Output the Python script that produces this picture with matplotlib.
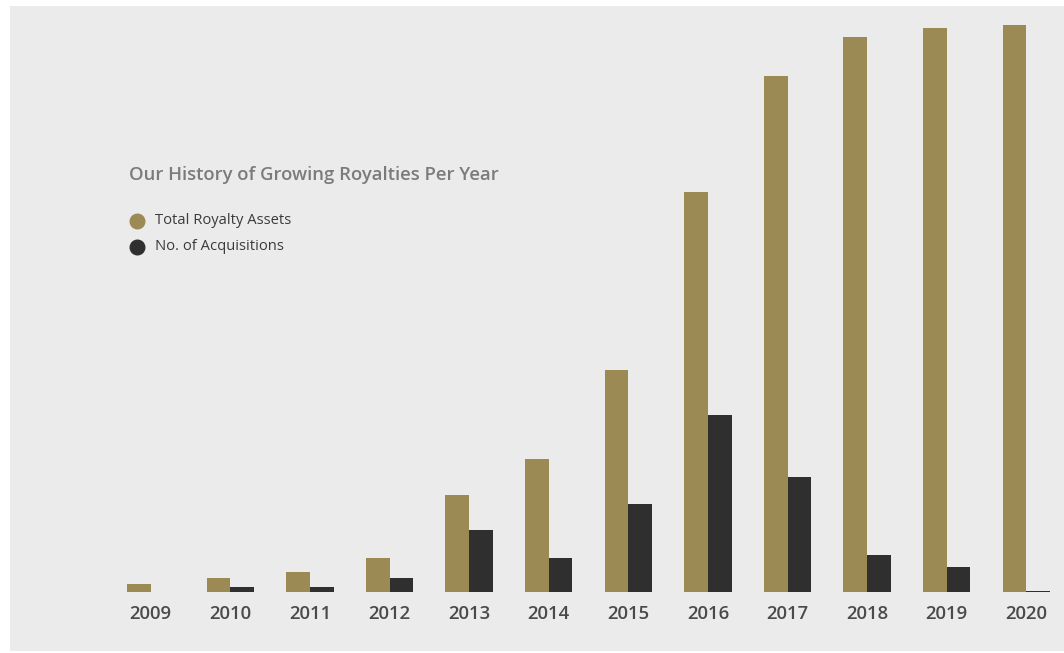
"""Bar chart: total royalty assets and acquisitions per year."""

import matplotlib
matplotlib.use("Agg")
import matplotlib.pyplot as plt
from matplotlib.patches import Rectangle
import numpy as np

years = ["2009", "2010", "2011", "2012", "2013", "2014",
         "2015", "2016", "2017", "2018", "2019", "2020"]
total_assets = [2.7, 4.7, 6.7, 11.3, 32.3, 44.3, 74.0, 133.3, 172.0, 185.0, 188.0, 189.0]
acquisitions = [0.0, 1.7, 1.7, 4.7, 20.7, 11.3, 29.3, 59.0, 38.3, 12.5, 8.4, 0.5]

GOLD = "#9c8a54"
DARK = "#2f2f2f"
PANEL = "#ebebeb"
FONT = "Open Sans"

fig = plt.figure(figsize=(10.64, 6.53), dpi=100)
fig.patch.set_facecolor("white")

# grey panel behind everything
fig.patches.append(Rectangle((10 / 1064, 1 - 651 / 653), 1054 / 1064, 645 / 653,
                             transform=fig.transFigure, facecolor=PANEL,
                             edgecolor="none", zorder=-5))

ax = fig.add_axes([0, 0, 1, 1])
ax.set_facecolor("none")
ax.axis("off")
ax.set_zorder(2)

x = np.arange(len(years))
w = 0.298
ax.bar(x - w / 2, total_assets, width=w, color=GOLD)
ax.bar(x + w / 2, acquisitions, width=w, color=DARK)

# pixel mapping: group spacing 79.6 px, 2009 centre at 150.7 px, baseline at y=592.3, 3 px per unit
ax.set_xlim(-150.7 / 79.6, (1064 - 150.7) / 79.6)
ax.set_ylim(-(653 - 592.3) / 3, 592.3 / 3)

for i, yr in enumerate(years):
    ax.text(i, -(614 - 592.3) / 3, yr, ha="center", va="center",
            fontsize=13.3, fontweight="semibold", color="#4a4a4a", family=FONT)

fig.text(129 / 1064, 1 - 175 / 653, "Our History of Growing Royalties Per Year",
         ha="left", va="center", fontsize=13.3, fontweight="semibold",
         color="#7b7b7b", family=FONT)

for ypx, col, lab in [(221, GOLD, "Total Royalty Assets"),
                      (247, DARK, "No. of Acquisitions")]:
    fig.lines.append(plt.Line2D([137 / 1064], [1 - ypx / 653], marker="o",
                                markersize=10.5, color=col, linestyle="none",
                                transform=fig.transFigure))
    fig.text(155 / 1064, 1 - ypx / 653, lab, ha="left", va="center",
             fontsize=10.6, color="#3a3a3a", family=FONT)

fig.savefig("out.png", dpi=100, facecolor=fig.get_facecolor())
